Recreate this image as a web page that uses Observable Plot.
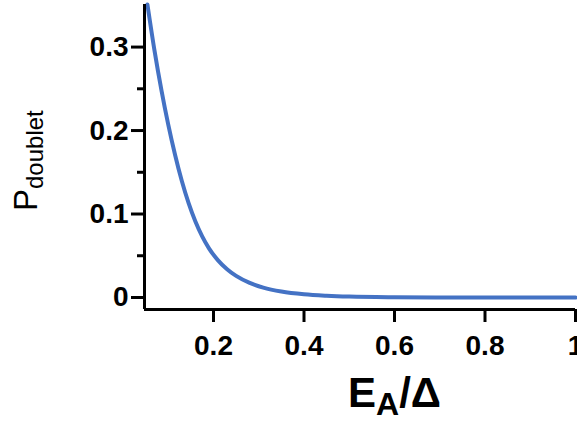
<!DOCTYPE html>
<html><head>
<meta charset="utf-8">
<script src="https://cdn.jsdelivr.net/npm/d3@7"></script>
<script src="https://cdn.jsdelivr.net/npm/@observablehq/plot@0.6"></script>
<style>body{margin:0;background:#fff} svg{display:block}</style>
</head><body><div id="chart"></div>
<script>
const energyRatio = [0.054, 0.070, 0.085, 0.100, 0.115, 0.130, 0.145, 0.160, 0.175, 0.190, 0.210, 0.230, 0.250, 0.280, 0.310, 0.350, 0.400, 0.450, 0.500, 0.600, 0.700, 0.800, 0.900, 1.000];
const pDoublet    = [0.351, 0.2945, 0.248, 0.207, 0.171, 0.1395, 0.113, 0.091, 0.0732, 0.0589, 0.0445, 0.0338, 0.0258, 0.0174, 0.0118, 0.0071, 0.0038, 0.0021, 0.0011, 0.00034, 0.0001, 0.00003, 0.00001, 0.000003];
const xTicks = [0.2, 0.4, 0.6, 0.8, 1];
const xTickLabels = ["0.2", "0.4", "0.6", "0.8", "1"];
const yTicks = [0, 0.1, 0.2, 0.3];
const yTickLabels = ["0", "0.1", "0.2", "0.3"];
const yMinorTicks = [0.05, 0.15, 0.25];
const xDomain = [0.0475, 1.0];
const yDomain = [-0.0144, 0.351];

const data = energyRatio.map((x, i) => ({x, y: pDoublet[i]}));

const plot = Plot.plot({
  width: 577, height: 421,
  marginLeft: 144, marginRight: 2, marginTop: 4, marginBottom: 112,
  style: {fontFamily: "'Liberation Sans', Arial, sans-serif", background: "white", overflow: "visible", color: "black"},
  x: {domain: xDomain},
  y: {domain: yDomain},
  marks: [
    Plot.line(data, {x: "x", y: "y", stroke: "#4472c4", strokeWidth: 4, curve: "monotone-x"}),
    Plot.axisX({ticks: xTicks, tickFormat: d => xTickLabels[xTicks.indexOf(d)], tickSize: 13, tickPadding: 13, strokeWidth: 3, fontSize: 28, fontWeight: "bold", label: null}),
    Plot.axisY({ticks: yTicks, tickFormat: d => yTickLabels[yTicks.indexOf(d)], tickSize: 13, tickPadding: 3, strokeWidth: 3, fontSize: 28, fontWeight: "bold", label: null}),
    Plot.axisY({ticks: yMinorTicks, tickFormat: () => "", tickSize: 7, strokeWidth: 3, label: null}),
    Plot.ruleX([xDomain[0]], {stroke: "black", strokeWidth: 3}),
    Plot.ruleY([yDomain[0]], {stroke: "black", strokeWidth: 3})
  ]
});
document.getElementById("chart").appendChild(plot);

const svg = d3.select(plot);
// y label
const yl = svg.append("text")
  .attr("transform", "translate(37,211) rotate(-90)")
  .attr("text-anchor", "start")
  .attr("font-family", "'Liberation Sans', Arial, sans-serif")
  .attr("fill", "black");
yl.append("tspan").attr("font-size", 33).text("P");
yl.append("tspan").attr("font-size", 24).attr("dy", 6).text("doublet");
// x label
const xl = svg.append("text")
  .attr("x", 348).attr("y", 407)
  .attr("text-anchor", "start")
  .attr("font-family", "'Liberation Sans', Arial, sans-serif")
  .attr("font-weight", "bold")
  .attr("fill", "black");
xl.append("tspan").attr("font-size", 42).text("E");
xl.append("tspan").attr("font-size", 32).attr("dy", 8).text("A");
xl.append("tspan").attr("font-size", 42).attr("dy", -8).text("/Δ");
</script>
</body></html>
